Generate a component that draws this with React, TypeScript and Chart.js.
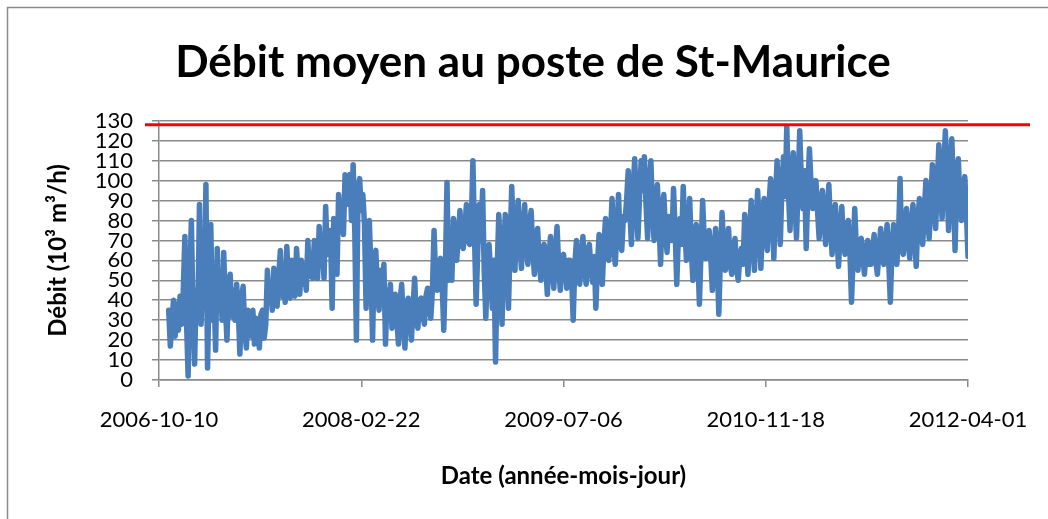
import { useEffect, useRef } from 'react';
import { Chart, registerables } from 'chart.js';

Chart.register(...registerables);

const chartTitle = 'Débit moyen au poste de St-Maurice';
const yAxisTitle = 'Débit (10³ m³/h)';
const xAxisTitle = 'Date (année-mois-jour)';
const xTickLabels = ['2006-10-10', '2008-02-22', '2009-07-06', '2010-11-18', '2012-04-01'];
const xTickStepDays = 500;
const xMaxDays = 2000;
const firstSampleDay = 24;
const sampleStepDays = 4;
const capacityLimit = 128;

// Débit (10³ m³/h), every ~4 days from 2006-11-03
const flowValues = [
  35, 17, 30, 40, 22, 38, 25, 42, 28, 45,
  72, 30, 2, 50, 80, 35, 8, 45, 30, 88,
  28, 55, 40, 98, 6, 50, 78, 30, 45, 15,
  66, 35, 50, 30, 64, 38, 20, 48, 53, 32,
  45, 30, 48, 35, 13, 40, 47, 25, 16, 35,
  30, 22, 35, 18, 31, 25, 16, 33, 35, 21,
  28, 55, 40, 48, 35, 56, 45, 37, 52, 65,
  42, 55, 39, 67, 48, 41, 60, 50, 42, 66,
  52, 43, 60, 48, 55, 45, 70, 52, 58, 51,
  70, 56, 51, 77, 60, 65, 51, 87, 63, 72,
  75, 36, 81, 65, 53, 93, 78, 85, 73, 103,
  88, 95, 103, 80, 108, 75, 20, 95, 101, 85,
  93, 78, 36, 70, 80, 55, 20, 60, 65, 45,
  35, 55, 42, 58, 18, 45, 32, 48, 26, 40,
  43, 30, 18, 40, 48, 28, 16, 38, 41, 30,
  20, 36, 51, 30, 26, 40, 41, 33, 28, 42,
  46, 36, 31, 45, 75, 50, 45, 58, 61, 48,
  25, 55, 99, 50, 62, 50, 81, 65, 60, 72,
  85, 68, 66, 75, 88, 70, 68, 78, 110, 72,
  38, 65, 88, 70, 95, 55, 31, 60, 68, 52,
  36, 60, 9, 55, 83, 65, 28, 60, 83, 70,
  36, 68, 97, 72, 55, 80, 90, 70, 56, 75,
  88, 68, 58, 78, 85, 66, 53, 72, 76, 60,
  50, 65, 68, 58, 43, 62, 72, 56, 46, 64,
  77, 58, 45, 62, 63, 55, 46, 60, 60, 52,
  30, 58, 70, 55, 48, 63, 72, 56, 48, 65,
  68, 55, 49, 62, 36, 58, 73, 62, 48, 68,
  81, 65, 60, 72, 91, 68, 58, 75, 93, 70,
  65, 82, 80, 90, 105, 85, 68, 95, 111, 88,
  71, 92, 110, 95, 112, 88, 71, 98, 110, 85,
  70, 88, 98, 80, 58, 85, 93, 75, 64, 82,
  81, 70, 96, 75, 48, 72, 81, 68, 97, 75,
  60, 72, 91, 65, 50, 68, 78, 62, 38, 65,
  90, 70, 61, 68, 75, 62, 45, 65, 76, 60,
  33, 62, 84, 66, 55, 68, 76, 58, 53, 66,
  71, 56, 50, 62, 66, 58, 83, 68, 53, 72,
  90, 70, 55, 78, 95, 75, 56, 82, 91, 72,
  65, 88, 101, 85, 61, 90, 110, 88, 68, 98,
  112, 92, 127, 95, 75, 100, 114, 90, 71, 98,
  125, 100, 86, 105, 66, 95, 116, 98, 86, 92,
  100, 85, 71, 88, 95, 80, 68, 85, 98, 78,
  63, 80, 88, 72, 57, 75, 87, 70, 63, 76,
  80, 65, 39, 62, 86, 66, 55, 70, 71, 62,
  53, 65, 70, 58, 58, 66, 73, 60, 53, 64,
  76, 62, 58, 68, 78, 60, 39, 65, 78, 62,
  58, 70, 101, 68, 63, 75, 86, 70, 61, 78,
  88, 72, 57, 80, 91, 78, 68, 85, 100, 82,
  71, 90, 108, 88, 76, 98, 118, 95, 81, 105,
  125, 100, 75, 108, 121, 95, 65, 100, 111, 90,
  80, 95, 102, 85, 62,
];

const GRID = '#8a8a8a';

export default function App() {
  const ref = useRef<HTMLCanvasElement>(null);

  useEffect(() => {
    const canvas = ref.current;
    if (!canvas) return;
    Chart.defaults.font.family = 'Lato, "Open Sans", sans-serif';

    const frame = {
      id: 'frame',
      beforeDraw(chart: any) {
        const ctx = chart.ctx;
        ctx.save();
        ctx.strokeStyle = GRID;
        ctx.lineWidth = 1.5;
        ctx.beginPath();
        ctx.moveTo(7.5, 540);
        ctx.lineTo(7.5, 7.5);
        ctx.lineTo(1070, 7.5);
        ctx.stroke();
        ctx.restore();
      },
    };

    const limitLine = {
      id: 'limitLine',
      afterDatasetsDraw(chart: any) {
        const { ctx, chartArea, scales } = chart;
        const y = scales.y.getPixelForValue(capacityLimit);
        ctx.save();
        ctx.strokeStyle = '#ff0000';
        ctx.lineWidth = 3;
        ctx.beginPath();
        ctx.moveTo(chartArea.left - 14, y);
        ctx.lineTo(chartArea.right + 62, y);
        ctx.stroke();
        ctx.restore();
      },
    };

    const chart = new Chart(canvas, {
      type: 'line',
      data: {
        datasets: [
          {
            data: flowValues.map((v, i) => ({ x: firstSampleDay + i * sampleStepDays, y: v })),
            borderColor: '#4a7ebb',
            borderWidth: 5.5,
            pointRadius: 0,
            tension: 0,
            fill: false,
            borderJoinStyle: 'round',
            borderCapStyle: 'round',
          },
        ],
      },
      options: {
        responsive: false,
        animation: false,
        events: [],
        layout: { padding: { left: 18, right: 0, top: 0, bottom: 0 } },
        plugins: {
          legend: { display: false },
          tooltip: { enabled: false },
          title: {
            display: true,
            text: chartTitle,
            color: '#000',
            font: { size: 44, weight: 'bold', lineHeight: 1.2 },
            padding: { top: 36, bottom: 32 },
          },
        },
        scales: {
          x: {
            type: 'linear',
            min: 0,
            max: xMaxDays,
            grid: { display: true, drawOnChartArea: false, drawTicks: true, tickLength: 7, color: GRID, lineWidth: 1.5 },
            border: { display: true, color: GRID, width: 1.5 },
            ticks: {
              stepSize: xTickStepDays,
              autoSkip: false,
              maxRotation: 0,
              padding: 20,
              color: '#000',
              font: { size: 22 },
              callback: (v: any) => xTickLabels[Math.round(Number(v) / xTickStepDays)] ?? '',
            },
            title: {
              display: true,
              text: xAxisTitle,
              color: '#000',
              font: { size: 24, weight: 'bold', lineHeight: 1.2 },
              padding: { top: 0, bottom: 28 },
            },
            afterFit: (s: any) => { s.height = 139; },
          },
          y: {
            min: 0,
            max: 130,
            grid: { color: GRID, lineWidth: 1.5, tickLength: 7 },
            border: { color: GRID, width: 1.5 },
            ticks: { stepSize: 10, autoSkip: false, padding: 19, color: '#000', font: { size: 22 } },
            title: {
              display: true,
              text: yAxisTitle,
              color: '#000',
              font: { size: 24, weight: 'bold', lineHeight: 1.2 },
              padding: { top: 26, bottom: 0 },
            },
            afterFit: (s: any) => { s.width = 141; },
          },
          yRight: {
            type: 'linear',
            position: 'right',
            display: true,
            grid: { display: false },
            border: { display: false },
            ticks: { display: false },
            afterFit: (s: any) => { s.width = 80; },
          },
        },
      } as any,
      plugins: [frame, limitLine],
    });

    return () => chart.destroy();
  }, []);

  return (
    <div style={{ position: 'fixed', left: 0, top: 0, width: 1048, height: 519, overflow: 'hidden', background: '#fff' }}>
      <canvas ref={ref} width={1048} height={519} style={{ display: 'block' }} />
    </div>
  );
}
